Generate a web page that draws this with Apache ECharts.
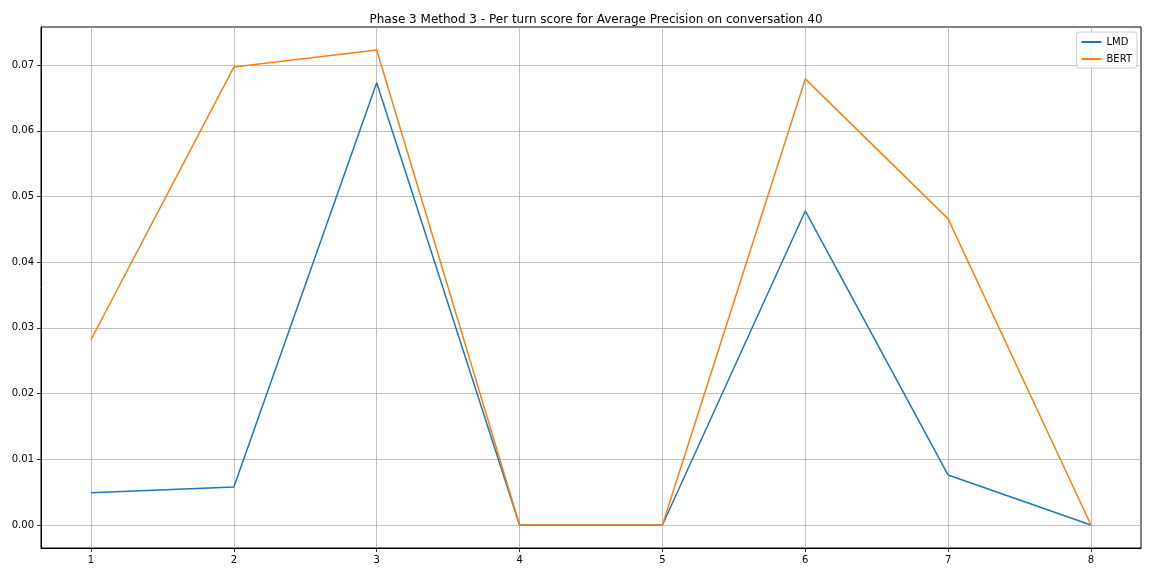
<!DOCTYPE html>
<html><head><meta charset="utf-8">
<script src="https://cdn.jsdelivr.net/npm/echarts@6/dist/echarts.min.js"></script>
<style>html,body{margin:0;padding:0;background:#fff}#c{width:1152px;height:576px}</style>
</head><body><div id="c"></div>
<script>
const turns = [1, 2, 3, 4, 5, 6, 7, 8];
const lmd = [0.0049, 0.0058, 0.0673, 0.0, 0.0, 0.0478, 0.0076, 0.0];
const bert = [0.0282, 0.0697, 0.0723, 0.0, 0.0, 0.0679, 0.0466, 0.0];
const yTicks = [0, 0.01, 0.02, 0.03, 0.04, 0.05, 0.06, 0.07];
const titleText = 'Phase 3 Method 3 - Per turn score for Average Precision on conversation 40';

const chart = echarts.init(document.getElementById('c'));
const font = 'DejaVu Sans';
chart.setOption({
  animation: false,
  backgroundColor: '#fff',
  title: { text: titleText, left: 591, top: 9, textAlign: 'center',
    textStyle: { fontFamily: font, fontSize: 12, fontWeight: 'normal', color: '#000' } },
  grid: { left: 41, right: 11, top: 27, bottom: 28, show: true, borderColor: '#000', borderWidth: 1, containLabel: false },
  legend: { right: 15, top: 32, orient: 'vertical', data: ['LMD', 'BERT'],
    icon: 'rect', itemWidth: 20, itemHeight: 2, itemGap: 7,
    backgroundColor: 'rgba(255,255,255,0.8)', borderColor: '#ccc', borderWidth: 1, borderRadius: 3,
    padding: [5, 5, 4, 5],
    textStyle: { fontFamily: font, fontSize: 10, color: '#000' } },
  xAxis: { type: 'value', min: 0.65, max: 8.35,
    axisLine: { show: true, onZero: false, lineStyle: { color: '#000', width: 1 } },
    axisTick: { show: true, inside: false, customValues: turns, length: 4, lineStyle: { color: '#000', width: 0.8 } },
    axisLabel: { customValues: turns, fontFamily: font, fontSize: 10, color: '#000', margin: 7 },
    splitLine: { show: true, lineStyle: { color: '#b0b0b0', width: 0.8 } } },
  yAxis: { type: 'value', min: -0.0035, max: 0.0758,
    axisLine: { show: true, onZero: false, lineStyle: { color: '#000', width: 1 } },
    axisTick: { show: true, inside: false, customValues: yTicks, length: 4, lineStyle: { color: '#000', width: 0.8 } },
    axisLabel: { customValues: yTicks, fontFamily: font, fontSize: 10, color: '#000', margin: 7,
      formatter: v => v.toFixed(2) },
    splitLine: { show: true, lineStyle: { color: '#b0b0b0', width: 0.8 } } },
  series: [
    { name: 'LMD', type: 'line', data: turns.map((t, i) => [t, lmd[i]]), showSymbol: false, symbol: 'none',
      lineStyle: { color: '#1f77b4', width: 1.5 }, itemStyle: { color: '#1f77b4' } },
    { name: 'BERT', type: 'line', data: turns.map((t, i) => [t, bert[i]]), showSymbol: false, symbol: 'none',
      lineStyle: { color: '#ff7f0e', width: 1.5 }, itemStyle: { color: '#ff7f0e' } }
  ]
});
</script></body></html>
